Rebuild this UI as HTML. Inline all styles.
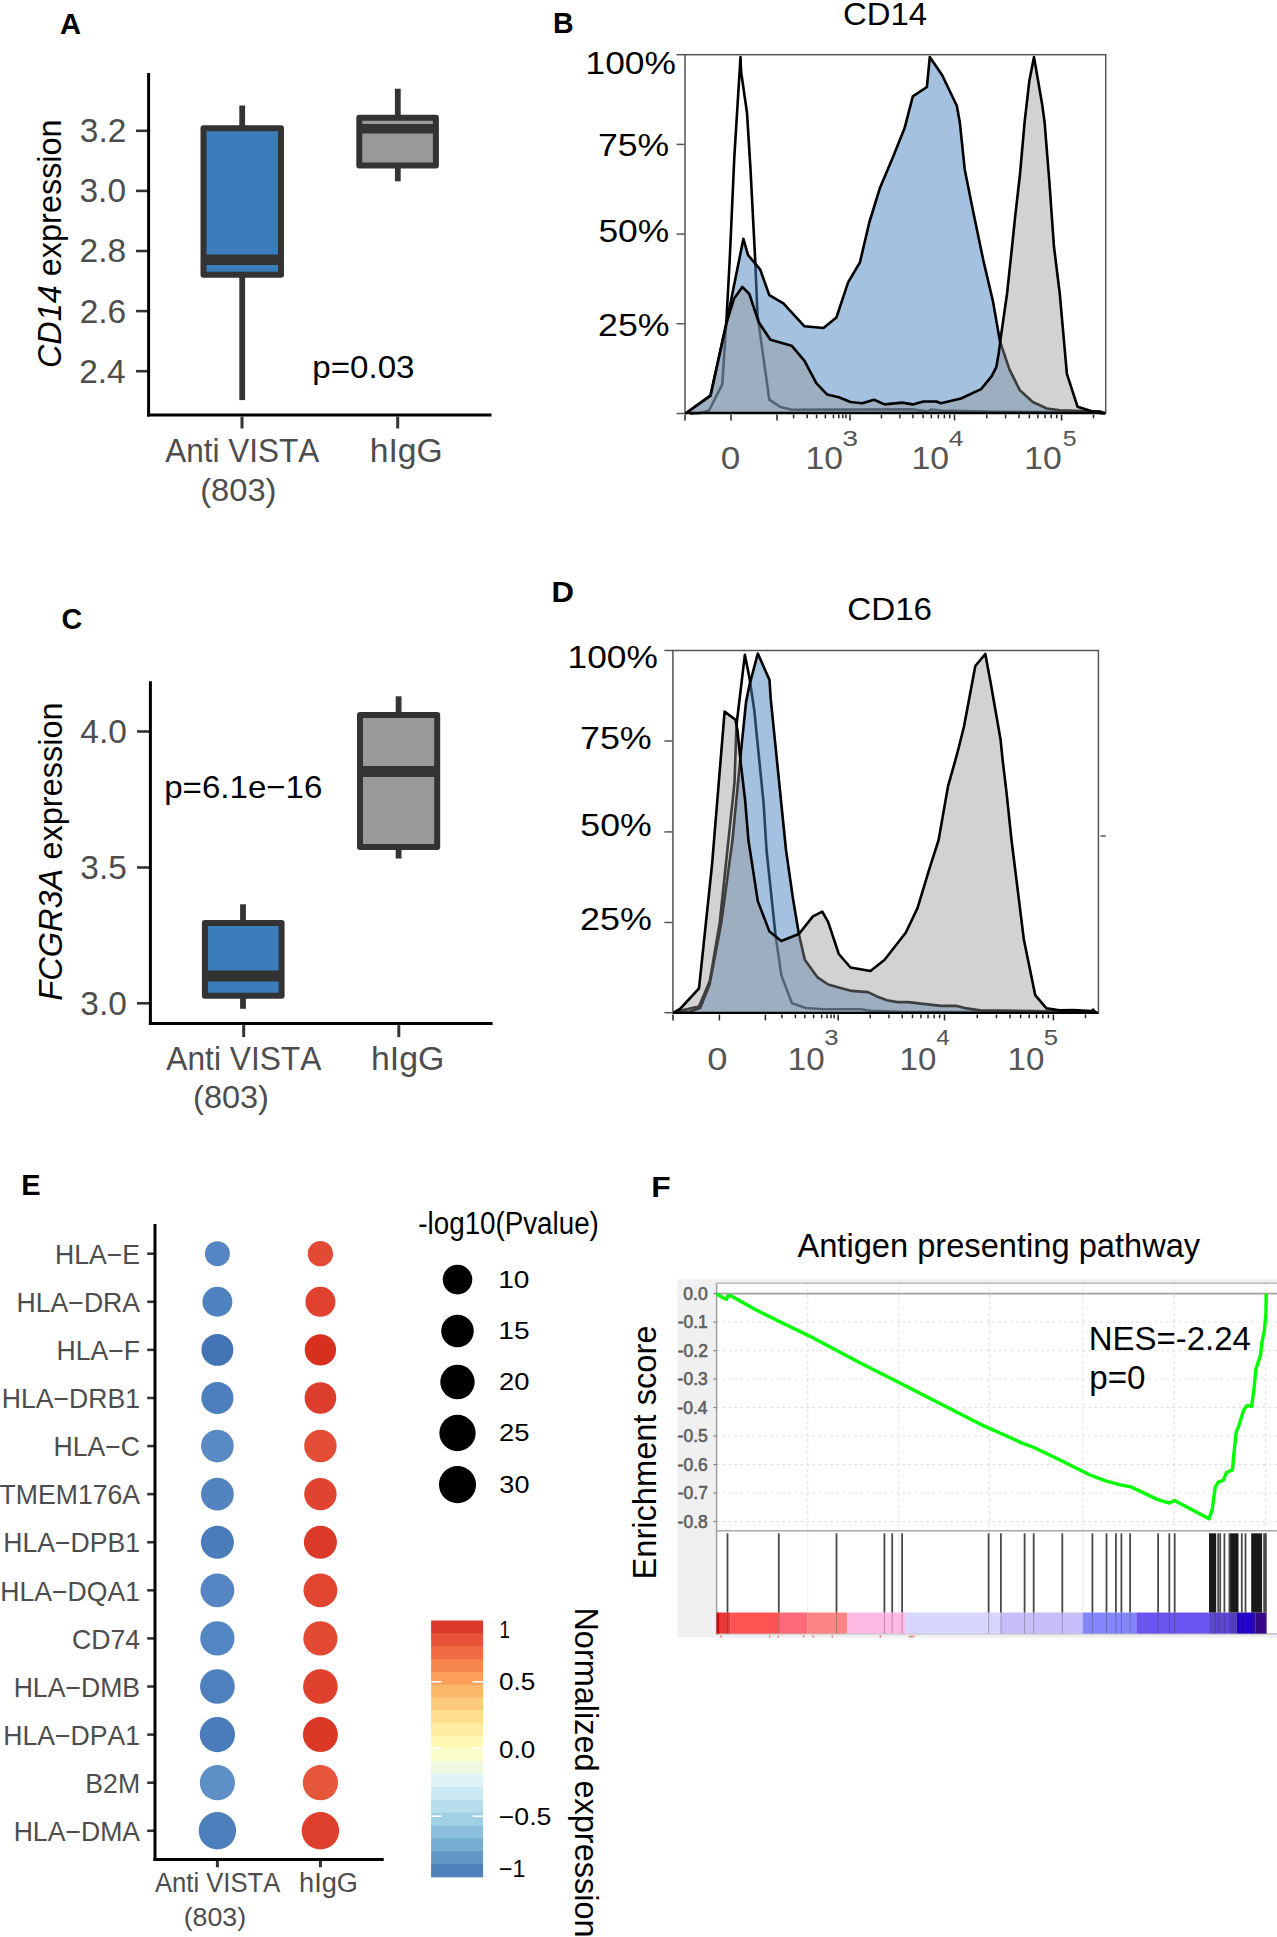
<!DOCTYPE html>
<html><head><meta charset="utf-8"><style>
html,body{margin:0;padding:0;background:#fff;}
svg{display:block;font-family:"Liberation Sans",sans-serif;font-kerning:none;}
</style></head><body>
<svg width="1277" height="1937" viewBox="0 0 1277 1937">
<rect width="1277" height="1937" fill="#fff"/>
<text transform="translate(59.97,33.50) scale(0.9903,1)" font-size="29.5" fill="#000"><tspan font-weight="bold">A</tspan></text>
<text transform="translate(552.89,32.90) scale(0.9672,1)" font-size="29.5" fill="#000"><tspan font-weight="bold">B</tspan></text>
<text transform="translate(61.42,629.20) scale(0.9747,1)" font-size="29.5" fill="#000"><tspan font-weight="bold">C</tspan></text>
<text transform="translate(551.52,601.80) scale(1.0557,1)" font-size="29.5" fill="#000"><tspan font-weight="bold">D</tspan></text>
<text transform="translate(21.26,1195.30) scale(0.9849,1)" font-size="29.5" fill="#000"><tspan font-weight="bold">E</tspan></text>
<text transform="translate(651.28,1196.80) scale(1.0758,1)" font-size="29.5" fill="#000"><tspan font-weight="bold">F</tspan></text>
<line x1="136.00" y1="130.80" x2="148.60" y2="130.80" stroke="#333333" stroke-width="2.6"/>
<text transform="translate(79.85,142.20) scale(1.0300,1)" font-size="32.5" fill="#4d4d4d"><tspan>3.2</tspan></text>
<line x1="136.00" y1="190.90" x2="148.60" y2="190.90" stroke="#333333" stroke-width="2.6"/>
<text transform="translate(79.47,202.30) scale(1.0300,1)" font-size="32.5" fill="#4d4d4d"><tspan>3.0</tspan></text>
<line x1="136.00" y1="251.00" x2="148.60" y2="251.00" stroke="#333333" stroke-width="2.6"/>
<text transform="translate(79.62,262.40) scale(1.0300,1)" font-size="32.5" fill="#4d4d4d"><tspan>2.8</tspan></text>
<line x1="136.00" y1="311.10" x2="148.60" y2="311.10" stroke="#333333" stroke-width="2.6"/>
<text transform="translate(79.64,322.50) scale(1.0300,1)" font-size="32.5" fill="#4d4d4d"><tspan>2.6</tspan></text>
<line x1="136.00" y1="371.20" x2="148.60" y2="371.20" stroke="#333333" stroke-width="2.6"/>
<text transform="translate(79.15,382.60) scale(1.0300,1)" font-size="32.5" fill="#4d4d4d"><tspan>2.4</tspan></text>
<line x1="242.20" y1="105.50" x2="242.20" y2="128.20" stroke="#333333" stroke-width="5.8"/>
<line x1="242.20" y1="274.70" x2="242.20" y2="400.10" stroke="#333333" stroke-width="5.8"/>
<rect x="203.50" y="128.20" width="77.50" height="146.50" fill="#3b7dba" stroke="#333333" stroke-width="6" stroke-linejoin="round"/>
<line x1="203.50" y1="259.70" x2="281.00" y2="259.70" stroke="#333333" stroke-width="10.4"/>
<line x1="397.80" y1="88.70" x2="397.80" y2="117.70" stroke="#333333" stroke-width="5.8"/>
<line x1="397.80" y1="165.40" x2="397.80" y2="181.30" stroke="#333333" stroke-width="5.8"/>
<rect x="359.30" y="117.70" width="76.60" height="47.70" fill="#999999" stroke="#333333" stroke-width="6" stroke-linejoin="round"/>
<line x1="359.30" y1="128.80" x2="435.90" y2="128.80" stroke="#333333" stroke-width="9.6"/>
<line x1="148.60" y1="73.00" x2="148.60" y2="416.50" stroke="#000" stroke-width="3"/>
<line x1="147.10" y1="415.00" x2="491.50" y2="415.00" stroke="#000" stroke-width="3"/>
<line x1="242.00" y1="416.50" x2="242.00" y2="428.50" stroke="#333333" stroke-width="3"/>
<line x1="397.70" y1="416.50" x2="397.70" y2="428.50" stroke="#333333" stroke-width="3"/>
<text transform="translate(165.24,462.10) scale(0.9257,1)" font-size="34" fill="#4d4d4d"><tspan>Anti VISTA</tspan></text>
<text transform="translate(200.17,501.30) scale(1.0221,1)" font-size="32" fill="#4d4d4d"><tspan>(803)</tspan></text>
<text transform="translate(369.67,462.10) scale(0.9896,1)" font-size="34" fill="#4d4d4d"><tspan>hIgG</tspan></text>
<text transform="rotate(-90) translate(-368.09,60.50) scale(0.9829,1)" font-size="33" fill="#000"><tspan font-style="italic">CD14</tspan><tspan> expression</tspan></text>
<text transform="translate(312.26,377.60) scale(1.0357,1)" font-size="32" fill="#000"><tspan>p=0.03</tspan></text>
<line x1="137.00" y1="731.50" x2="150.40" y2="731.50" stroke="#333333" stroke-width="2.6"/>
<text transform="translate(80.27,742.90) scale(1.0300,1)" font-size="32.5" fill="#4d4d4d"><tspan>4.0</tspan></text>
<line x1="137.00" y1="867.50" x2="150.40" y2="867.50" stroke="#333333" stroke-width="2.6"/>
<text transform="translate(80.37,878.90) scale(1.0300,1)" font-size="32.5" fill="#4d4d4d"><tspan>3.5</tspan></text>
<line x1="137.00" y1="1003.30" x2="150.40" y2="1003.30" stroke="#333333" stroke-width="2.6"/>
<text transform="translate(80.27,1014.70) scale(1.0300,1)" font-size="32.5" fill="#4d4d4d"><tspan>3.0</tspan></text>
<line x1="243.00" y1="904.30" x2="243.00" y2="923.10" stroke="#333333" stroke-width="5.8"/>
<line x1="243.00" y1="995.80" x2="243.00" y2="1008.80" stroke="#333333" stroke-width="5.8"/>
<rect x="204.90" y="923.10" width="76.70" height="72.70" fill="#3b7dba" stroke="#333333" stroke-width="6" stroke-linejoin="round"/>
<line x1="204.90" y1="976.00" x2="281.60" y2="976.00" stroke="#333333" stroke-width="11.0"/>
<line x1="398.60" y1="696.30" x2="398.60" y2="714.90" stroke="#333333" stroke-width="5.8"/>
<line x1="398.60" y1="846.90" x2="398.60" y2="858.50" stroke="#333333" stroke-width="5.8"/>
<rect x="360.00" y="714.90" width="77.20" height="132.00" fill="#999999" stroke="#333333" stroke-width="6" stroke-linejoin="round"/>
<line x1="360.00" y1="771.50" x2="437.20" y2="771.50" stroke="#333333" stroke-width="11.0"/>
<line x1="150.40" y1="681.30" x2="150.40" y2="1025.10" stroke="#000" stroke-width="3"/>
<line x1="148.90" y1="1023.60" x2="492.60" y2="1023.60" stroke="#000" stroke-width="3"/>
<line x1="243.70" y1="1025.10" x2="243.70" y2="1037.10" stroke="#333333" stroke-width="3"/>
<line x1="398.80" y1="1025.10" x2="398.80" y2="1037.10" stroke="#333333" stroke-width="3"/>
<text transform="translate(166.34,1070.10) scale(0.9323,1)" font-size="34" fill="#4d4d4d"><tspan>Anti VISTA</tspan></text>
<text transform="translate(193.09,1108.30) scale(1.0151,1)" font-size="32" fill="#4d4d4d"><tspan>(803)</tspan></text>
<text transform="translate(371.05,1070.10) scale(0.9954,1)" font-size="34" fill="#4d4d4d"><tspan>hIgG</tspan></text>
<text transform="rotate(-90) translate(-1000.70,61.70) scale(0.9861,1)" font-size="33" fill="#000"><tspan font-style="italic">FCGR3A</tspan><tspan> expression</tspan></text>
<text transform="translate(164.17,798.30) scale(1.0342,1)" font-size="32" fill="#000"><tspan>p=6.1e−16</tspan></text>
<polyline points="690.0,413.5 700.0,413.0 709.0,410.5 722.3,384.4 726.4,321.0 729.7,260.0 734.3,157.5 740.5,57.0 741.1,71.7 747.0,112.8 750.5,169.2 755.2,260.0 757.5,315.1 769.3,399.7 779.8,406.7 791.6,409.8 830.0,409.6 912.0,409.4 927.0,411.4 931.0,409.6 942.0,410.6 1000.0,411.8 1100.0,412.0" fill="none" stroke="#000" stroke-width="2.6" stroke-linejoin="round"/>
<polygon points="685.5,413.5 710.5,395.6 726.4,323.3 743.4,238.8 748.1,255.2 760.1,269.3 769.3,295.1 783.4,303.4 804.5,326.3 823.5,328.0 836.4,317.5 848.2,282.2 859.9,262.5 869.3,222.5 879.9,188.0 892.8,157.5 904.6,128.1 912.8,96.4 926.9,87.0 929.8,57.0 942.2,75.2 956.8,105.8 959.8,122.2 964.7,169.2 972.9,210.3 983.5,261.1 992.9,301.0 999.9,341.0 1009.3,369.2 1019.9,390.3 1032.8,402.0 1046.9,408.5 1059.8,410.3 1100.0,411.5 1105.0,413.5" fill="rgba(73,133,193,0.5)" stroke="none"/>
<polyline points="685.5,413.5 710.5,395.6 726.4,323.3 743.4,238.8 748.1,255.2 760.1,269.3 769.3,295.1 783.4,303.4 804.5,326.3 823.5,328.0 836.4,317.5 848.2,282.2 859.9,262.5 869.3,222.5 879.9,188.0 892.8,157.5 904.6,128.1 912.8,96.4 926.9,87.0 929.8,57.0 942.2,75.2 956.8,105.8 959.8,122.2 964.7,169.2 972.9,210.3 983.5,261.1 992.9,301.0 999.9,341.0 1009.3,369.2 1019.9,390.3 1032.8,402.0 1046.9,408.5 1059.8,410.3 1100.0,411.5 1105.0,413.5" fill="none" stroke="#000" stroke-width="2.6" stroke-linejoin="round"/>
<polygon points="685.5,413.5 710.5,395.6 726.4,323.3 734.0,298.7 742.3,286.9 749.3,294.0 758.7,322.2 770.4,339.8 791.6,345.7 804.5,360.9 816.3,383.2 827.0,394.4 838.8,397.3 850.5,402.0 862.3,403.2 874.0,399.7 884.6,404.4 902.2,402.6 912.8,404.4 923.4,401.5 936.3,401.5 941.0,403.2 961.0,398.5 981.1,389.1 991.7,376.2 996.4,366.8 998.8,352.7 1001.1,335.1 1007.0,294.0 1011.7,250.0 1015.2,216.2 1019.9,175.1 1024.6,122.2 1029.3,81.1 1034.0,57.0 1042.2,104.6 1044.6,122.2 1049.3,181.0 1054.0,247.0 1059.8,294.0 1066.9,373.9 1077.5,406.7 1092.7,411.4 1101.0,413.2 1105.0,413.5" fill="rgba(147,147,147,0.42)" stroke="none"/>
<polyline points="685.5,413.5 710.5,395.6 726.4,323.3 734.0,298.7 742.3,286.9 749.3,294.0 758.7,322.2 770.4,339.8 791.6,345.7 804.5,360.9 816.3,383.2 827.0,394.4 838.8,397.3 850.5,402.0 862.3,403.2 874.0,399.7 884.6,404.4 902.2,402.6 912.8,404.4 923.4,401.5 936.3,401.5 941.0,403.2 961.0,398.5 981.1,389.1 991.7,376.2 996.4,366.8 998.8,352.7 1001.1,335.1 1007.0,294.0 1011.7,250.0 1015.2,216.2 1019.9,175.1 1024.6,122.2 1029.3,81.1 1034.0,57.0 1042.2,104.6 1044.6,122.2 1049.3,181.0 1054.0,247.0 1059.8,294.0 1066.9,373.9 1077.5,406.7 1092.7,411.4 1101.0,413.2 1105.0,413.5" fill="none" stroke="#000" stroke-width="2.6" stroke-linejoin="round"/>
<rect x="685.0" y="54.7" width="420.70000000000005" height="358.3" fill="none" stroke="#555" stroke-width="1.5"/>
<line x1="685.00" y1="413.00" x2="1105.70" y2="413.00" stroke="#000" stroke-width="2.4"/>
<line x1="676.50" y1="54.70" x2="685.00" y2="54.70" stroke="#555" stroke-width="1.5"/>
<line x1="676.50" y1="144.40" x2="685.00" y2="144.40" stroke="#555" stroke-width="1.5"/>
<line x1="676.50" y1="234.10" x2="685.00" y2="234.10" stroke="#555" stroke-width="1.5"/>
<line x1="676.50" y1="323.70" x2="685.00" y2="323.70" stroke="#555" stroke-width="1.5"/>
<line x1="676.50" y1="413.50" x2="685.00" y2="413.50" stroke="#555" stroke-width="1.5"/>
<text transform="translate(585.51,73.80) scale(1.1409,1)" font-size="31" fill="#000"><tspan>100%</tspan></text>
<text transform="translate(597.98,156.00) scale(1.1474,1)" font-size="31" fill="#000"><tspan>75%</tspan></text>
<text transform="translate(598.38,241.80) scale(1.1407,1)" font-size="31" fill="#000"><tspan>50%</tspan></text>
<text transform="translate(598.00,336.40) scale(1.1536,1)" font-size="31" fill="#000"><tspan>25%</tspan></text>
<line x1="685.00" y1="414.60" x2="685.00" y2="420.50" stroke="#222" stroke-width="1.5"/>
<line x1="731.00" y1="414.60" x2="731.00" y2="420.50" stroke="#222" stroke-width="1.5"/>
<line x1="777.00" y1="414.60" x2="777.00" y2="420.50" stroke="#222" stroke-width="1.5"/>
<line x1="850.00" y1="414.60" x2="850.00" y2="420.50" stroke="#222" stroke-width="1.5"/>
<line x1="954.50" y1="414.60" x2="954.50" y2="420.50" stroke="#222" stroke-width="1.5"/>
<line x1="1061.60" y1="414.60" x2="1061.60" y2="420.50" stroke="#222" stroke-width="1.5"/>
<line x1="793.59" y1="414.60" x2="793.59" y2="418.30" stroke="#222" stroke-width="1.5"/>
<line x1="807.16" y1="414.60" x2="807.16" y2="418.30" stroke="#222" stroke-width="1.5"/>
<line x1="816.56" y1="414.60" x2="816.56" y2="418.30" stroke="#222" stroke-width="1.5"/>
<line x1="825.37" y1="414.60" x2="825.37" y2="418.30" stroke="#222" stroke-width="1.5"/>
<line x1="833.46" y1="414.60" x2="833.46" y2="418.30" stroke="#222" stroke-width="1.5"/>
<line x1="838.81" y1="414.60" x2="838.81" y2="418.30" stroke="#222" stroke-width="1.5"/>
<line x1="842.86" y1="414.60" x2="842.86" y2="418.30" stroke="#222" stroke-width="1.5"/>
<line x1="845.95" y1="414.60" x2="845.95" y2="418.30" stroke="#222" stroke-width="1.5"/>
<line x1="881.46" y1="414.60" x2="881.46" y2="418.30" stroke="#222" stroke-width="1.5"/>
<line x1="899.86" y1="414.60" x2="899.86" y2="418.30" stroke="#222" stroke-width="1.5"/>
<line x1="912.92" y1="414.60" x2="912.92" y2="418.30" stroke="#222" stroke-width="1.5"/>
<line x1="923.04" y1="414.60" x2="923.04" y2="418.30" stroke="#222" stroke-width="1.5"/>
<line x1="931.32" y1="414.60" x2="931.32" y2="418.30" stroke="#222" stroke-width="1.5"/>
<line x1="938.31" y1="414.60" x2="938.31" y2="418.30" stroke="#222" stroke-width="1.5"/>
<line x1="944.37" y1="414.60" x2="944.37" y2="418.30" stroke="#222" stroke-width="1.5"/>
<line x1="949.72" y1="414.60" x2="949.72" y2="418.30" stroke="#222" stroke-width="1.5"/>
<line x1="986.74" y1="414.60" x2="986.74" y2="418.30" stroke="#222" stroke-width="1.5"/>
<line x1="1005.60" y1="414.60" x2="1005.60" y2="418.30" stroke="#222" stroke-width="1.5"/>
<line x1="1018.98" y1="414.60" x2="1018.98" y2="418.30" stroke="#222" stroke-width="1.5"/>
<line x1="1029.36" y1="414.60" x2="1029.36" y2="418.30" stroke="#222" stroke-width="1.5"/>
<line x1="1037.84" y1="414.60" x2="1037.84" y2="418.30" stroke="#222" stroke-width="1.5"/>
<line x1="1045.01" y1="414.60" x2="1045.01" y2="418.30" stroke="#222" stroke-width="1.5"/>
<line x1="1051.22" y1="414.60" x2="1051.22" y2="418.30" stroke="#222" stroke-width="1.5"/>
<line x1="1056.70" y1="414.60" x2="1056.70" y2="418.30" stroke="#222" stroke-width="1.5"/>
<line x1="1093.50" y1="414.60" x2="1093.50" y2="418.30" stroke="#222" stroke-width="1.5"/>
<text transform="translate(720.73,469.00) scale(1.1337,1)" font-size="31" fill="#555"><tspan>0</tspan></text>
<text transform="translate(805.43,469.00) scale(1.0871,1)" font-size="31" fill="#555"><tspan>10</tspan></text>
<text transform="translate(842.22,445.50) scale(1.2943,1)" font-size="22" fill="#555"><tspan>3</tspan></text>
<text transform="translate(911.43,469.00) scale(1.0903,1)" font-size="31" fill="#555"><tspan>10</tspan></text>
<text transform="translate(948.79,445.50) scale(1.2087,1)" font-size="22" fill="#555"><tspan>4</tspan></text>
<text transform="translate(1024.23,469.00) scale(1.0903,1)" font-size="31" fill="#555"><tspan>10</tspan></text>
<text transform="translate(1062.80,445.50) scale(1.1313,1)" font-size="22" fill="#555"><tspan>5</tspan></text>
<text transform="translate(842.93,25.00) scale(1.0603,1)" font-size="31" fill="#000"><tspan>CD14</tspan></text>
<polyline points="676.7,1011.5 699.0,1006.6 709.8,981.0 719.7,923.0 734.5,782.6 736.5,725.0 744.9,654.7 749.6,678.8 754.3,710.5 759.0,757.5 763.7,804.5 766.5,850.0 775.4,934.0 781.3,975.1 791.9,1003.3 806.0,1008.0 823.5,1009.2 861.1,1009.2 870.5,1010.9 900.0,1011.8 1097.0,1012.3" fill="none" stroke="#000" stroke-width="2.6" stroke-linejoin="round"/>
<polygon points="673.5,1012.7 690.0,1011.5 700.2,1008.0 709.6,984.5 721.4,922.2 732.5,840.0 740.4,757.5 746.0,702.3 749.6,684.6 757.8,653.5 769.5,680.0 770.7,698.7 786.0,850.0 793.0,898.7 798.9,934.0 804.8,959.8 817.6,977.4 828.2,984.5 838.8,987.4 851.7,990.9 868.1,992.1 876.4,996.2 886.9,1000.3 897.5,1002.1 908.1,1002.1 923.3,1003.9 941.0,1005.9 956.0,1005.7 966.6,1008.4 980.0,1010.4 1033.2,1011.1 1097.0,1012.7" fill="rgba(73,133,193,0.5)" stroke="none"/>
<polyline points="673.5,1012.7 690.0,1011.5 700.2,1008.0 709.6,984.5 721.4,922.2 732.5,840.0 740.4,757.5 746.0,702.3 749.6,684.6 757.8,653.5 769.5,680.0 770.7,698.7 786.0,850.0 793.0,898.7 798.9,934.0 804.8,959.8 817.6,977.4 828.2,984.5 838.8,987.4 851.7,990.9 868.1,992.1 876.4,996.2 886.9,1000.3 897.5,1002.1 908.1,1002.1 923.3,1003.9 941.0,1005.9 956.0,1005.7 966.6,1008.4 980.0,1010.4 1033.2,1011.1 1097.0,1012.7" fill="none" stroke="#000" stroke-width="2.6" stroke-linejoin="round"/>
<polygon points="673.5,1012.7 680.0,1009.0 699.0,988.4 712.0,865.0 724.6,711.6 735.5,719.8 737.6,731.3 739.1,747.0 740.7,762.7 745.1,800.0 748.4,840.0 757.8,901.1 769.5,931.6 781.3,941.0 798.9,934.0 812.9,916.4 822.3,911.7 828.2,922.2 838.8,954.0 850.5,967.5 870.5,971.0 884.6,959.8 905.7,932.8 917.5,908.1 929.2,869.4 938.6,840.0 948.0,786.4 957.3,753.2 964.0,726.5 975.3,666.0 985.3,654.0 990.6,682.6 1000.6,739.8 1002.6,759.8 1006.6,793.1 1011.5,840.0 1023.9,939.8 1035.2,995.1 1046.5,1008.4 1059.8,1010.4 1073.1,1010.1 1091.8,1011.1 1093.1,1009.7 1095.7,1012.7" fill="rgba(147,147,147,0.42)" stroke="none"/>
<polyline points="673.5,1012.7 680.0,1009.0 699.0,988.4 712.0,865.0 724.6,711.6 735.5,719.8 737.6,731.3 739.1,747.0 740.7,762.7 745.1,800.0 748.4,840.0 757.8,901.1 769.5,931.6 781.3,941.0 798.9,934.0 812.9,916.4 822.3,911.7 828.2,922.2 838.8,954.0 850.5,967.5 870.5,971.0 884.6,959.8 905.7,932.8 917.5,908.1 929.2,869.4 938.6,840.0 948.0,786.4 957.3,753.2 964.0,726.5 975.3,666.0 985.3,654.0 990.6,682.6 1000.6,739.8 1002.6,759.8 1006.6,793.1 1011.5,840.0 1023.9,939.8 1035.2,995.1 1046.5,1008.4 1059.8,1010.4 1073.1,1010.1 1091.8,1011.1 1093.1,1009.7 1095.7,1012.7" fill="none" stroke="#000" stroke-width="2.6" stroke-linejoin="round"/>
<rect x="672.9" y="650.5" width="425.5000000000001" height="362.5" fill="none" stroke="#555" stroke-width="1.5"/>
<line x1="672.90" y1="1012.90" x2="1098.40" y2="1012.90" stroke="#000" stroke-width="2.4"/>
<line x1="664.40" y1="650.50" x2="672.90" y2="650.50" stroke="#555" stroke-width="1.5"/>
<line x1="664.40" y1="741.00" x2="672.90" y2="741.00" stroke="#555" stroke-width="1.5"/>
<line x1="664.40" y1="831.90" x2="672.90" y2="831.90" stroke="#555" stroke-width="1.5"/>
<line x1="664.40" y1="922.50" x2="672.90" y2="922.50" stroke="#555" stroke-width="1.5"/>
<line x1="664.40" y1="1012.70" x2="672.90" y2="1012.70" stroke="#555" stroke-width="1.5"/>
<text transform="translate(567.51,667.60) scale(1.1395,1)" font-size="31" fill="#000"><tspan>100%</tspan></text>
<text transform="translate(579.96,748.90) scale(1.1575,1)" font-size="31" fill="#000"><tspan>75%</tspan></text>
<text transform="translate(580.37,835.60) scale(1.1508,1)" font-size="31" fill="#000"><tspan>50%</tspan></text>
<text transform="translate(580.00,929.80) scale(1.1569,1)" font-size="31" fill="#000"><tspan>25%</tspan></text>
<line x1="673.00" y1="1014.50" x2="673.00" y2="1020.40" stroke="#222" stroke-width="1.5"/>
<line x1="719.40" y1="1014.50" x2="719.40" y2="1020.40" stroke="#222" stroke-width="1.5"/>
<line x1="765.40" y1="1014.50" x2="765.40" y2="1020.40" stroke="#222" stroke-width="1.5"/>
<line x1="838.20" y1="1014.50" x2="838.20" y2="1020.40" stroke="#222" stroke-width="1.5"/>
<line x1="944.50" y1="1014.50" x2="944.50" y2="1020.40" stroke="#222" stroke-width="1.5"/>
<line x1="1053.40" y1="1014.50" x2="1053.40" y2="1020.40" stroke="#222" stroke-width="1.5"/>
<line x1="781.89" y1="1014.50" x2="781.89" y2="1018.20" stroke="#222" stroke-width="1.5"/>
<line x1="795.43" y1="1014.50" x2="795.43" y2="1018.20" stroke="#222" stroke-width="1.5"/>
<line x1="804.82" y1="1014.50" x2="804.82" y2="1018.20" stroke="#222" stroke-width="1.5"/>
<line x1="813.61" y1="1014.50" x2="813.61" y2="1018.20" stroke="#222" stroke-width="1.5"/>
<line x1="821.69" y1="1014.50" x2="821.69" y2="1018.20" stroke="#222" stroke-width="1.5"/>
<line x1="827.03" y1="1014.50" x2="827.03" y2="1018.20" stroke="#222" stroke-width="1.5"/>
<line x1="831.07" y1="1014.50" x2="831.07" y2="1018.20" stroke="#222" stroke-width="1.5"/>
<line x1="834.16" y1="1014.50" x2="834.16" y2="1018.20" stroke="#222" stroke-width="1.5"/>
<line x1="870.20" y1="1014.50" x2="870.20" y2="1018.20" stroke="#222" stroke-width="1.5"/>
<line x1="888.92" y1="1014.50" x2="888.92" y2="1018.20" stroke="#222" stroke-width="1.5"/>
<line x1="902.20" y1="1014.50" x2="902.20" y2="1018.20" stroke="#222" stroke-width="1.5"/>
<line x1="912.50" y1="1014.50" x2="912.50" y2="1018.20" stroke="#222" stroke-width="1.5"/>
<line x1="920.92" y1="1014.50" x2="920.92" y2="1018.20" stroke="#222" stroke-width="1.5"/>
<line x1="928.03" y1="1014.50" x2="928.03" y2="1018.20" stroke="#222" stroke-width="1.5"/>
<line x1="934.20" y1="1014.50" x2="934.20" y2="1018.20" stroke="#222" stroke-width="1.5"/>
<line x1="939.64" y1="1014.50" x2="939.64" y2="1018.20" stroke="#222" stroke-width="1.5"/>
<line x1="977.28" y1="1014.50" x2="977.28" y2="1018.20" stroke="#222" stroke-width="1.5"/>
<line x1="996.46" y1="1014.50" x2="996.46" y2="1018.20" stroke="#222" stroke-width="1.5"/>
<line x1="1010.06" y1="1014.50" x2="1010.06" y2="1018.20" stroke="#222" stroke-width="1.5"/>
<line x1="1020.62" y1="1014.50" x2="1020.62" y2="1018.20" stroke="#222" stroke-width="1.5"/>
<line x1="1029.24" y1="1014.50" x2="1029.24" y2="1018.20" stroke="#222" stroke-width="1.5"/>
<line x1="1036.53" y1="1014.50" x2="1036.53" y2="1018.20" stroke="#222" stroke-width="1.5"/>
<line x1="1042.85" y1="1014.50" x2="1042.85" y2="1018.20" stroke="#222" stroke-width="1.5"/>
<line x1="1048.42" y1="1014.50" x2="1048.42" y2="1018.20" stroke="#222" stroke-width="1.5"/>
<line x1="1085.50" y1="1014.50" x2="1085.50" y2="1018.20" stroke="#222" stroke-width="1.5"/>
<line x1="1100.40" y1="836.00" x2="1105.70" y2="836.00" stroke="#555" stroke-width="1.5"/>
<text transform="translate(707.18,1069.70) scale(1.1742,1)" font-size="31" fill="#555"><tspan>0</tspan></text>
<text transform="translate(787.87,1069.70) scale(1.0709,1)" font-size="31" fill="#555"><tspan>10</tspan></text>
<text transform="translate(824.32,1045.30) scale(1.1696,1)" font-size="22" fill="#555"><tspan>3</tspan></text>
<text transform="translate(899.48,1069.70) scale(1.0676,1)" font-size="31" fill="#555"><tspan>10</tspan></text>
<text transform="translate(936.24,1045.30) scale(1.1005,1)" font-size="22" fill="#555"><tspan>4</tspan></text>
<text transform="translate(1007.48,1069.70) scale(1.0676,1)" font-size="31" fill="#555"><tspan>10</tspan></text>
<text transform="translate(1043.77,1045.30) scale(1.1696,1)" font-size="22" fill="#555"><tspan>5</tspan></text>
<text transform="translate(847.21,620.00) scale(1.0705,1)" font-size="31" fill="#000"><tspan>CD16</tspan></text>
<line x1="147.20" y1="1253.70" x2="155.00" y2="1253.70" stroke="#333333" stroke-width="2.6"/>
<text transform="translate(55.02,1263.90) scale(0.9750,1)" font-size="27.3" fill="#4d4d4d"><tspan>HLA−E</tspan></text>
<circle cx="217.4" cy="1253.70" r="12.50" fill="#5586c3"/>
<circle cx="320.4" cy="1253.70" r="12.65" fill="#e34a33"/>
<line x1="147.20" y1="1301.79" x2="155.00" y2="1301.79" stroke="#333333" stroke-width="2.6"/>
<text transform="translate(16.58,1311.99) scale(0.9750,1)" font-size="27.3" fill="#4d4d4d"><tspan>HLA−DRA</tspan></text>
<circle cx="217.4" cy="1301.79" r="14.95" fill="#4f83c0"/>
<circle cx="320.4" cy="1301.79" r="15.00" fill="#e0422f"/>
<line x1="147.20" y1="1349.88" x2="155.00" y2="1349.88" stroke="#333333" stroke-width="2.6"/>
<text transform="translate(56.52,1360.08) scale(0.9750,1)" font-size="27.3" fill="#4d4d4d"><tspan>HLA−F</tspan></text>
<circle cx="217.4" cy="1349.88" r="15.95" fill="#4474b5"/>
<circle cx="320.4" cy="1349.88" r="15.65" fill="#d7301f"/>
<line x1="147.20" y1="1397.97" x2="155.00" y2="1397.97" stroke="#333333" stroke-width="2.6"/>
<text transform="translate(1.77,1408.17) scale(0.9750,1)" font-size="27.3" fill="#4d4d4d"><tspan>HLA−DRB1</tspan></text>
<circle cx="217.4" cy="1397.97" r="16.05" fill="#4d7fbe"/>
<circle cx="320.4" cy="1397.97" r="15.80" fill="#dd3d2d"/>
<line x1="147.20" y1="1446.06" x2="155.00" y2="1446.06" stroke="#333333" stroke-width="2.6"/>
<text transform="translate(53.55,1456.26) scale(0.9750,1)" font-size="27.3" fill="#4d4d4d"><tspan>HLA−C</tspan></text>
<circle cx="217.4" cy="1446.06" r="16.35" fill="#5a8ac4"/>
<circle cx="320.4" cy="1446.06" r="16.20" fill="#e44d35"/>
<line x1="147.20" y1="1494.15" x2="155.00" y2="1494.15" stroke="#333333" stroke-width="2.6"/>
<text transform="translate(-0.42,1504.35) scale(0.9750,1)" font-size="27.3" fill="#4d4d4d"><tspan>TMEM176A</tspan></text>
<circle cx="217.4" cy="1494.15" r="16.35" fill="#5384c0"/>
<circle cx="320.4" cy="1494.15" r="16.20" fill="#e04430"/>
<line x1="147.20" y1="1542.24" x2="155.00" y2="1542.24" stroke="#333333" stroke-width="2.6"/>
<text transform="translate(3.24,1552.44) scale(0.9750,1)" font-size="27.3" fill="#4d4d4d"><tspan>HLA−DPB1</tspan></text>
<circle cx="217.4" cy="1542.24" r="16.55" fill="#4a7cbc"/>
<circle cx="320.4" cy="1542.24" r="16.55" fill="#dc3a28"/>
<line x1="147.20" y1="1590.33" x2="155.00" y2="1590.33" stroke="#333333" stroke-width="2.6"/>
<text transform="translate(0.29,1600.53) scale(0.9750,1)" font-size="27.3" fill="#4d4d4d"><tspan>HLA−DQA1</tspan></text>
<circle cx="217.4" cy="1590.33" r="16.90" fill="#5586c3"/>
<circle cx="320.4" cy="1590.33" r="16.90" fill="#e1452f"/>
<line x1="147.20" y1="1638.42" x2="155.00" y2="1638.42" stroke="#333333" stroke-width="2.6"/>
<text transform="translate(72.05,1648.62) scale(0.9750,1)" font-size="27.3" fill="#4d4d4d"><tspan>CD74</tspan></text>
<circle cx="217.4" cy="1638.42" r="17.15" fill="#5387c4"/>
<circle cx="320.4" cy="1638.42" r="17.10" fill="#e34a33"/>
<line x1="147.20" y1="1686.51" x2="155.00" y2="1686.51" stroke="#333333" stroke-width="2.6"/>
<text transform="translate(13.63,1696.71) scale(0.9750,1)" font-size="27.3" fill="#4d4d4d"><tspan>HLA−DMB</tspan></text>
<circle cx="217.4" cy="1686.51" r="17.35" fill="#4f80be"/>
<circle cx="320.4" cy="1686.51" r="17.30" fill="#df412d"/>
<line x1="147.20" y1="1734.60" x2="155.00" y2="1734.60" stroke="#333333" stroke-width="2.6"/>
<text transform="translate(3.24,1744.80) scale(0.9750,1)" font-size="27.3" fill="#4d4d4d"><tspan>HLA−DPA1</tspan></text>
<circle cx="217.4" cy="1734.60" r="17.60" fill="#4a7bba"/>
<circle cx="320.4" cy="1734.60" r="17.50" fill="#db3826"/>
<line x1="147.20" y1="1782.69" x2="155.00" y2="1782.69" stroke="#333333" stroke-width="2.6"/>
<text transform="translate(85.37,1792.89) scale(0.9750,1)" font-size="27.3" fill="#4d4d4d"><tspan>B2M</tspan></text>
<circle cx="217.4" cy="1782.69" r="17.60" fill="#5f8fc7"/>
<circle cx="320.4" cy="1782.69" r="17.60" fill="#e6563a"/>
<line x1="147.20" y1="1830.78" x2="155.00" y2="1830.78" stroke="#333333" stroke-width="2.6"/>
<text transform="translate(13.63,1840.98) scale(0.9750,1)" font-size="27.3" fill="#4d4d4d"><tspan>HLA−DMA</tspan></text>
<circle cx="217.4" cy="1830.78" r="18.75" fill="#4e7fbd"/>
<circle cx="320.4" cy="1830.78" r="18.75" fill="#dd3f2c"/>
<line x1="155.00" y1="1224.00" x2="155.00" y2="1861.00" stroke="#000" stroke-width="3"/>
<line x1="153.50" y1="1859.50" x2="383.70" y2="1859.50" stroke="#000" stroke-width="3"/>
<line x1="217.40" y1="1861.00" x2="217.40" y2="1867.30" stroke="#333333" stroke-width="3"/>
<line x1="320.40" y1="1861.00" x2="320.40" y2="1867.30" stroke="#333333" stroke-width="3"/>
<text transform="translate(154.95,1892.40) scale(0.9157,1)" font-size="28" fill="#4d4d4d"><tspan>Anti VISTA</tspan></text>
<text transform="translate(183.64,1926.40) scale(1.0301,1)" font-size="26" fill="#4d4d4d"><tspan>(803)</tspan></text>
<text transform="translate(299.01,1892.40) scale(0.9723,1)" font-size="28" fill="#4d4d4d"><tspan>hIgG</tspan></text>
<text transform="translate(418.37,1233.60) scale(0.8956,1)" font-size="31" fill="#000"><tspan>-log10(Pvalue)</tspan></text>
<circle cx="457.5" cy="1279.6" r="14.80" fill="#000"/>
<text transform="translate(498.26,1288.00) scale(1.1950,1)" font-size="23.5" fill="#000"><tspan>10</tspan></text>
<circle cx="457.5" cy="1330.9" r="16.25" fill="#000"/>
<text transform="translate(498.25,1339.30) scale(1.1985,1)" font-size="23.5" fill="#000"><tspan>15</tspan></text>
<circle cx="457.5" cy="1382.0" r="17.20" fill="#000"/>
<text transform="translate(499.02,1390.40) scale(1.1648,1)" font-size="23.5" fill="#000"><tspan>20</tspan></text>
<circle cx="457.5" cy="1433.0" r="18.15" fill="#000"/>
<text transform="translate(499.02,1441.40) scale(1.1681,1)" font-size="23.5" fill="#000"><tspan>25</tspan></text>
<circle cx="457.5" cy="1484.6" r="18.55" fill="#000"/>
<text transform="translate(499.37,1493.00) scale(1.1510,1)" font-size="23.5" fill="#000"><tspan>30</tspan></text>
<rect x="431.10" y="1620.50" width="52.00" height="13.41" fill="#dc3a2c" stroke="none" stroke-width="0"/>
<rect x="431.10" y="1633.31" width="52.00" height="13.41" fill="#e75337" stroke="none" stroke-width="0"/>
<rect x="431.10" y="1646.12" width="52.00" height="13.41" fill="#f36b42" stroke="none" stroke-width="0"/>
<rect x="431.10" y="1658.93" width="52.00" height="13.41" fill="#f7854e" stroke="none" stroke-width="0"/>
<rect x="431.10" y="1671.74" width="52.00" height="13.41" fill="#fb9f5a" stroke="none" stroke-width="0"/>
<rect x="431.10" y="1684.55" width="52.00" height="13.41" fill="#fdb769" stroke="none" stroke-width="0"/>
<rect x="431.10" y="1697.36" width="52.00" height="13.41" fill="#fecb7c" stroke="none" stroke-width="0"/>
<rect x="431.10" y="1710.17" width="52.00" height="13.41" fill="#fedf8f" stroke="none" stroke-width="0"/>
<rect x="431.10" y="1722.98" width="52.00" height="13.41" fill="#feeca2" stroke="none" stroke-width="0"/>
<rect x="431.10" y="1735.79" width="52.00" height="13.41" fill="#fff8b5" stroke="none" stroke-width="0"/>
<rect x="431.10" y="1748.60" width="52.00" height="13.41" fill="#f9fdca" stroke="none" stroke-width="0"/>
<rect x="431.10" y="1761.41" width="52.00" height="13.41" fill="#edf8e1" stroke="none" stroke-width="0"/>
<rect x="431.10" y="1774.22" width="52.00" height="13.41" fill="#e0f3f8" stroke="none" stroke-width="0"/>
<rect x="431.10" y="1787.03" width="52.00" height="13.41" fill="#cbe9f2" stroke="none" stroke-width="0"/>
<rect x="431.10" y="1799.84" width="52.00" height="13.41" fill="#b6deec" stroke="none" stroke-width="0"/>
<rect x="431.10" y="1812.65" width="52.00" height="13.41" fill="#a0d0e4" stroke="none" stroke-width="0"/>
<rect x="431.10" y="1825.46" width="52.00" height="13.41" fill="#8abeda" stroke="none" stroke-width="0"/>
<rect x="431.10" y="1838.27" width="52.00" height="13.41" fill="#74add1" stroke="none" stroke-width="0"/>
<rect x="431.10" y="1851.08" width="52.00" height="13.41" fill="#6196c5" stroke="none" stroke-width="0"/>
<rect x="431.10" y="1863.89" width="52.00" height="13.41" fill="#4e80b9" stroke="none" stroke-width="0"/>
<line x1="431.10" y1="1681.80" x2="441.50" y2="1681.80" stroke="#fff" stroke-width="1.6"/>
<line x1="472.70" y1="1681.80" x2="483.10" y2="1681.80" stroke="#fff" stroke-width="1.6"/>
<line x1="431.10" y1="1748.10" x2="441.50" y2="1748.10" stroke="#fff" stroke-width="1.6"/>
<line x1="472.70" y1="1748.10" x2="483.10" y2="1748.10" stroke="#fff" stroke-width="1.6"/>
<line x1="431.10" y1="1816.20" x2="441.50" y2="1816.20" stroke="#fff" stroke-width="1.6"/>
<line x1="472.70" y1="1816.20" x2="483.10" y2="1816.20" stroke="#fff" stroke-width="1.6"/>
<text transform="translate(499.57,1637.50) scale(0.7994,1)" font-size="23.5" fill="#000"><tspan>1</tspan></text>
<text transform="translate(499.08,1690.40) scale(1.1085,1)" font-size="23.5" fill="#000"><tspan>0.5</tspan></text>
<text transform="translate(499.08,1757.60) scale(1.1060,1)" font-size="23.5" fill="#000"><tspan>0.0</tspan></text>
<text transform="translate(498.79,1824.80) scale(1.1346,1)" font-size="23.5" fill="#000"><tspan>−0.5</tspan></text>
<text transform="translate(498.95,1876.70) scale(0.9883,1)" font-size="23.5" fill="#000"><tspan>−1</tspan></text>
<text transform="rotate(90) translate(1607.44,-575.30) scale(0.9837,1)" font-size="33" fill="#000"><tspan>Normalized expression</tspan></text>
<text transform="translate(797.44,1257.00) scale(0.9745,1)" font-size="33.5" fill="#000"><tspan>Antigen presenting pathway</tspan></text>
<rect x="677.50" y="1279.20" width="599.50" height="358.50" fill="#f0f0f0" stroke="none" stroke-width="0"/>
<rect x="716.60" y="1283.20" width="560.40" height="350.40" fill="#fff" stroke="none" stroke-width="0"/>
<line x1="716.60" y1="1322.09" x2="1277.00" y2="1322.09" stroke="#dadada" stroke-width="1" stroke-dasharray="2.5,3.5"/>
<line x1="716.60" y1="1350.58" x2="1277.00" y2="1350.58" stroke="#dadada" stroke-width="1" stroke-dasharray="2.5,3.5"/>
<line x1="716.60" y1="1379.07" x2="1277.00" y2="1379.07" stroke="#dadada" stroke-width="1" stroke-dasharray="2.5,3.5"/>
<line x1="716.60" y1="1407.56" x2="1277.00" y2="1407.56" stroke="#dadada" stroke-width="1" stroke-dasharray="2.5,3.5"/>
<line x1="716.60" y1="1436.05" x2="1277.00" y2="1436.05" stroke="#dadada" stroke-width="1" stroke-dasharray="2.5,3.5"/>
<line x1="716.60" y1="1464.54" x2="1277.00" y2="1464.54" stroke="#dadada" stroke-width="1" stroke-dasharray="2.5,3.5"/>
<line x1="716.60" y1="1493.03" x2="1277.00" y2="1493.03" stroke="#dadada" stroke-width="1" stroke-dasharray="2.5,3.5"/>
<line x1="716.60" y1="1521.52" x2="1277.00" y2="1521.52" stroke="#dadada" stroke-width="1" stroke-dasharray="2.5,3.5"/>
<line x1="807.70" y1="1283.20" x2="807.70" y2="1530.80" stroke="#dadada" stroke-width="1" stroke-dasharray="2.5,3.5"/>
<line x1="807.70" y1="1530.80" x2="807.70" y2="1612.50" stroke="#ececec" stroke-width="1"/>
<line x1="898.80" y1="1283.20" x2="898.80" y2="1530.80" stroke="#dadada" stroke-width="1" stroke-dasharray="2.5,3.5"/>
<line x1="898.80" y1="1530.80" x2="898.80" y2="1612.50" stroke="#ececec" stroke-width="1"/>
<line x1="989.40" y1="1283.20" x2="989.40" y2="1530.80" stroke="#dadada" stroke-width="1" stroke-dasharray="2.5,3.5"/>
<line x1="989.40" y1="1530.80" x2="989.40" y2="1612.50" stroke="#ececec" stroke-width="1"/>
<line x1="1082.80" y1="1283.20" x2="1082.80" y2="1530.80" stroke="#dadada" stroke-width="1" stroke-dasharray="2.5,3.5"/>
<line x1="1082.80" y1="1530.80" x2="1082.80" y2="1612.50" stroke="#ececec" stroke-width="1"/>
<line x1="1174.20" y1="1283.20" x2="1174.20" y2="1530.80" stroke="#dadada" stroke-width="1" stroke-dasharray="2.5,3.5"/>
<line x1="1174.20" y1="1530.80" x2="1174.20" y2="1612.50" stroke="#ececec" stroke-width="1"/>
<line x1="1265.60" y1="1283.20" x2="1265.60" y2="1530.80" stroke="#dadada" stroke-width="1" stroke-dasharray="2.5,3.5"/>
<line x1="1265.60" y1="1530.80" x2="1265.60" y2="1612.50" stroke="#ececec" stroke-width="1"/>
<line x1="716.60" y1="1293.60" x2="1277.00" y2="1293.60" stroke="#a0a0a0" stroke-width="1.6"/>
<line x1="716.60" y1="1283.20" x2="1277.00" y2="1283.20" stroke="#b0b0b0" stroke-width="1.3"/>
<line x1="716.60" y1="1530.80" x2="1277.00" y2="1530.80" stroke="#a8a8a8" stroke-width="1.5"/>
<line x1="716.60" y1="1283.20" x2="716.60" y2="1635.00" stroke="#a0a0a0" stroke-width="1.5"/>
<line x1="716.60" y1="1633.90" x2="1277.00" y2="1633.90" stroke="#b8b8b8" stroke-width="1.3"/>
<line x1="713.30" y1="1293.60" x2="716.60" y2="1293.60" stroke="#888" stroke-width="1.2"/>
<text transform="translate(683.36,1299.85)" font-size="17.5" fill="#606060" stroke="#606060" stroke-width="0.6"><tspan>0.0</tspan></text>
<line x1="713.30" y1="1322.09" x2="716.60" y2="1322.09" stroke="#888" stroke-width="1.2"/>
<text transform="translate(677.70,1328.34)" font-size="17.5" fill="#606060" stroke="#606060" stroke-width="0.6"><tspan>-0.1</tspan></text>
<line x1="713.30" y1="1350.58" x2="716.60" y2="1350.58" stroke="#888" stroke-width="1.2"/>
<text transform="translate(677.73,1356.83)" font-size="17.5" fill="#606060" stroke="#606060" stroke-width="0.6"><tspan>-0.2</tspan></text>
<line x1="713.30" y1="1379.07" x2="716.60" y2="1379.07" stroke="#888" stroke-width="1.2"/>
<text transform="translate(677.61,1385.32)" font-size="17.5" fill="#606060" stroke="#606060" stroke-width="0.6"><tspan>-0.3</tspan></text>
<line x1="713.30" y1="1407.56" x2="716.60" y2="1407.56" stroke="#888" stroke-width="1.2"/>
<text transform="translate(677.36,1413.81)" font-size="17.5" fill="#606060" stroke="#606060" stroke-width="0.6"><tspan>-0.4</tspan></text>
<line x1="713.30" y1="1436.05" x2="716.60" y2="1436.05" stroke="#888" stroke-width="1.2"/>
<text transform="translate(677.58,1442.30)" font-size="17.5" fill="#606060" stroke="#606060" stroke-width="0.6"><tspan>-0.5</tspan></text>
<line x1="713.30" y1="1464.54" x2="716.60" y2="1464.54" stroke="#888" stroke-width="1.2"/>
<text transform="translate(677.61,1470.79)" font-size="17.5" fill="#606060" stroke="#606060" stroke-width="0.6"><tspan>-0.6</tspan></text>
<line x1="713.30" y1="1493.03" x2="716.60" y2="1493.03" stroke="#888" stroke-width="1.2"/>
<text transform="translate(677.73,1499.28)" font-size="17.5" fill="#606060" stroke="#606060" stroke-width="0.6"><tspan>-0.7</tspan></text>
<line x1="713.30" y1="1521.52" x2="716.60" y2="1521.52" stroke="#888" stroke-width="1.2"/>
<text transform="translate(677.61,1527.77)" font-size="17.5" fill="#606060" stroke="#606060" stroke-width="0.6"><tspan>-0.8</tspan></text>
<rect x="716.60" y="1612.50" width="3.20" height="21.10" fill="#d40000" stroke="none" stroke-width="0"/>
<rect x="719.80" y="1612.50" width="10.90" height="21.10" fill="#e83838" stroke="none" stroke-width="0"/>
<rect x="730.70" y="1612.50" width="48.10" height="21.10" fill="#ff5252" stroke="none" stroke-width="0"/>
<rect x="778.80" y="1612.50" width="28.40" height="21.10" fill="#ff6a7a" stroke="none" stroke-width="0"/>
<rect x="807.20" y="1612.50" width="40.00" height="21.10" fill="#ff8585" stroke="none" stroke-width="0"/>
<rect x="847.20" y="1612.50" width="58.00" height="21.10" fill="#ffbbe4" stroke="none" stroke-width="0"/>
<rect x="905.20" y="1612.50" width="95.60" height="21.10" fill="#d6d6ff" stroke="none" stroke-width="0"/>
<rect x="1000.80" y="1612.50" width="81.80" height="21.10" fill="#c7bff9" stroke="none" stroke-width="0"/>
<rect x="1082.60" y="1612.50" width="53.70" height="21.10" fill="#8585ff" stroke="none" stroke-width="0"/>
<rect x="1136.30" y="1612.50" width="76.90" height="21.10" fill="#6b55f0" stroke="none" stroke-width="0"/>
<rect x="1213.20" y="1612.50" width="23.60" height="21.10" fill="#5e46e4" stroke="none" stroke-width="0"/>
<rect x="1236.80" y="1612.50" width="18.60" height="21.10" fill="#2200cc" stroke="none" stroke-width="0"/>
<rect x="1255.40" y="1612.50" width="11.20" height="21.10" fill="#3a0099" stroke="none" stroke-width="0"/>
<line x1="727.50" y1="1533.30" x2="727.50" y2="1612.50" stroke="#4a4a4a" stroke-width="1.8"/>
<line x1="727.50" y1="1612.50" x2="727.50" y2="1633.60" stroke="rgba(60,60,60,0.35)" stroke-width="1.0"/>
<line x1="778.80" y1="1533.30" x2="778.80" y2="1612.50" stroke="#4a4a4a" stroke-width="1.8"/>
<line x1="778.80" y1="1612.50" x2="778.80" y2="1633.60" stroke="rgba(60,60,60,0.35)" stroke-width="1.0"/>
<line x1="836.50" y1="1533.30" x2="836.50" y2="1612.50" stroke="#4a4a4a" stroke-width="1.8"/>
<line x1="836.50" y1="1612.50" x2="836.50" y2="1633.60" stroke="rgba(60,60,60,0.35)" stroke-width="1.0"/>
<line x1="884.40" y1="1533.30" x2="884.40" y2="1612.50" stroke="#4a4a4a" stroke-width="1.8"/>
<line x1="884.40" y1="1612.50" x2="884.40" y2="1633.60" stroke="rgba(60,60,60,0.35)" stroke-width="1.0"/>
<line x1="892.20" y1="1533.30" x2="892.20" y2="1612.50" stroke="#4a4a4a" stroke-width="1.8"/>
<line x1="892.20" y1="1612.50" x2="892.20" y2="1633.60" stroke="rgba(60,60,60,0.35)" stroke-width="1.0"/>
<line x1="902.10" y1="1533.30" x2="902.10" y2="1612.50" stroke="#4a4a4a" stroke-width="1.8"/>
<line x1="902.10" y1="1612.50" x2="902.10" y2="1633.60" stroke="rgba(60,60,60,0.35)" stroke-width="1.0"/>
<line x1="988.60" y1="1533.30" x2="988.60" y2="1612.50" stroke="#4a4a4a" stroke-width="1.8"/>
<line x1="988.60" y1="1612.50" x2="988.60" y2="1633.60" stroke="rgba(60,60,60,0.35)" stroke-width="1.0"/>
<line x1="1000.90" y1="1533.30" x2="1000.90" y2="1612.50" stroke="#4a4a4a" stroke-width="1.8"/>
<line x1="1000.90" y1="1612.50" x2="1000.90" y2="1633.60" stroke="rgba(60,60,60,0.35)" stroke-width="1.0"/>
<line x1="1024.60" y1="1533.30" x2="1024.60" y2="1612.50" stroke="#4a4a4a" stroke-width="1.8"/>
<line x1="1024.60" y1="1612.50" x2="1024.60" y2="1633.60" stroke="rgba(60,60,60,0.35)" stroke-width="1.0"/>
<line x1="1033.70" y1="1533.30" x2="1033.70" y2="1612.50" stroke="#4a4a4a" stroke-width="1.8"/>
<line x1="1033.70" y1="1612.50" x2="1033.70" y2="1633.60" stroke="rgba(60,60,60,0.35)" stroke-width="1.0"/>
<line x1="1062.30" y1="1533.30" x2="1062.30" y2="1612.50" stroke="#4a4a4a" stroke-width="1.8"/>
<line x1="1062.30" y1="1612.50" x2="1062.30" y2="1633.60" stroke="rgba(60,60,60,0.35)" stroke-width="1.0"/>
<line x1="1092.40" y1="1533.30" x2="1092.40" y2="1612.50" stroke="#4a4a4a" stroke-width="1.8"/>
<line x1="1092.40" y1="1612.50" x2="1092.40" y2="1633.60" stroke="rgba(60,60,60,0.35)" stroke-width="1.0"/>
<line x1="1106.50" y1="1533.30" x2="1106.50" y2="1612.50" stroke="#4a4a4a" stroke-width="1.8"/>
<line x1="1106.50" y1="1612.50" x2="1106.50" y2="1633.60" stroke="rgba(60,60,60,0.35)" stroke-width="1.0"/>
<line x1="1115.90" y1="1533.30" x2="1115.90" y2="1612.50" stroke="#4a4a4a" stroke-width="1.8"/>
<line x1="1115.90" y1="1612.50" x2="1115.90" y2="1633.60" stroke="rgba(60,60,60,0.35)" stroke-width="1.0"/>
<line x1="1121.40" y1="1533.30" x2="1121.40" y2="1612.50" stroke="#4a4a4a" stroke-width="1.8"/>
<line x1="1121.40" y1="1612.50" x2="1121.40" y2="1633.60" stroke="rgba(60,60,60,0.35)" stroke-width="1.0"/>
<line x1="1130.10" y1="1533.30" x2="1130.10" y2="1612.50" stroke="#4a4a4a" stroke-width="1.8"/>
<line x1="1130.10" y1="1612.50" x2="1130.10" y2="1633.60" stroke="rgba(60,60,60,0.35)" stroke-width="1.0"/>
<line x1="1158.10" y1="1533.30" x2="1158.10" y2="1612.50" stroke="#4a4a4a" stroke-width="1.8"/>
<line x1="1158.10" y1="1612.50" x2="1158.10" y2="1633.60" stroke="rgba(60,60,60,0.35)" stroke-width="1.0"/>
<line x1="1169.30" y1="1533.30" x2="1169.30" y2="1612.50" stroke="#4a4a4a" stroke-width="1.8"/>
<line x1="1169.30" y1="1612.50" x2="1169.30" y2="1633.60" stroke="rgba(60,60,60,0.35)" stroke-width="1.0"/>
<line x1="1174.70" y1="1533.30" x2="1174.70" y2="1612.50" stroke="#4a4a4a" stroke-width="1.8"/>
<line x1="1174.70" y1="1612.50" x2="1174.70" y2="1633.60" stroke="rgba(60,60,60,0.35)" stroke-width="1.0"/>
<line x1="1218.20" y1="1533.30" x2="1218.20" y2="1612.50" stroke="#4a4a4a" stroke-width="1.8"/>
<line x1="1218.20" y1="1612.50" x2="1218.20" y2="1633.60" stroke="rgba(60,60,60,0.35)" stroke-width="1.0"/>
<line x1="1220.20" y1="1533.30" x2="1220.20" y2="1612.50" stroke="#4a4a4a" stroke-width="1.8"/>
<line x1="1220.20" y1="1612.50" x2="1220.20" y2="1633.60" stroke="rgba(60,60,60,0.35)" stroke-width="1.0"/>
<line x1="1224.40" y1="1533.30" x2="1224.40" y2="1612.50" stroke="#4a4a4a" stroke-width="1.8"/>
<line x1="1224.40" y1="1612.50" x2="1224.40" y2="1633.60" stroke="rgba(60,60,60,0.35)" stroke-width="1.0"/>
<line x1="1229.40" y1="1533.30" x2="1229.40" y2="1612.50" stroke="#4a4a4a" stroke-width="1.8"/>
<line x1="1229.40" y1="1612.50" x2="1229.40" y2="1633.60" stroke="rgba(60,60,60,0.35)" stroke-width="1.0"/>
<line x1="1241.80" y1="1533.30" x2="1241.80" y2="1612.50" stroke="#4a4a4a" stroke-width="1.8"/>
<line x1="1241.80" y1="1612.50" x2="1241.80" y2="1633.60" stroke="rgba(60,60,60,0.35)" stroke-width="1.0"/>
<line x1="1245.50" y1="1533.30" x2="1245.50" y2="1612.50" stroke="#4a4a4a" stroke-width="1.8"/>
<line x1="1245.50" y1="1612.50" x2="1245.50" y2="1633.60" stroke="rgba(60,60,60,0.35)" stroke-width="1.0"/>
<line x1="1264.10" y1="1533.30" x2="1264.10" y2="1612.50" stroke="#4a4a4a" stroke-width="1.8"/>
<line x1="1264.10" y1="1612.50" x2="1264.10" y2="1633.60" stroke="rgba(60,60,60,0.35)" stroke-width="1.0"/>
<line x1="1265.90" y1="1533.30" x2="1265.90" y2="1612.50" stroke="#4a4a4a" stroke-width="1.8"/>
<line x1="1265.90" y1="1612.50" x2="1265.90" y2="1633.60" stroke="rgba(60,60,60,0.35)" stroke-width="1.0"/>
<rect x="1209.00" y="1533.30" width="7.20" height="79.20" fill="#1a1a1a" stroke="none" stroke-width="0"/>
<rect x="1209.50" y="1612.50" width="6.20" height="21.10" fill="rgba(40,40,60,0.25)" stroke="none" stroke-width="0"/>
<rect x="1230.10" y="1533.30" width="8.40" height="79.20" fill="#1a1a1a" stroke="none" stroke-width="0"/>
<rect x="1230.60" y="1612.50" width="7.40" height="21.10" fill="rgba(40,40,60,0.25)" stroke="none" stroke-width="0"/>
<rect x="1251.20" y="1533.30" width="10.90" height="79.20" fill="#1a1a1a" stroke="none" stroke-width="0"/>
<rect x="1251.70" y="1612.50" width="9.90" height="21.10" fill="rgba(40,40,60,0.25)" stroke="none" stroke-width="0"/>
<rect x="720.40" y="1635.60" width="1.40" height="1.80" fill="#ff5a5a" stroke="none" stroke-width="0"/>
<rect x="768.90" y="1635.60" width="1.40" height="1.80" fill="#ff5a5a" stroke="none" stroke-width="0"/>
<rect x="777.40" y="1635.60" width="1.40" height="1.80" fill="#ff5a5a" stroke="none" stroke-width="0"/>
<rect x="802.90" y="1635.60" width="1.40" height="1.80" fill="#ff5a5a" stroke="none" stroke-width="0"/>
<rect x="812.60" y="1635.60" width="1.40" height="1.80" fill="#ff5a5a" stroke="none" stroke-width="0"/>
<rect x="831.60" y="1635.60" width="1.40" height="1.80" fill="#ff5a5a" stroke="none" stroke-width="0"/>
<rect x="879.60" y="1635.60" width="1.40" height="1.80" fill="#ff5a5a" stroke="none" stroke-width="0"/>
<rect x="908.90" y="1635.60" width="1.40" height="1.80" fill="#ff5a5a" stroke="none" stroke-width="0"/>
<rect x="910.90" y="1635.60" width="1.40" height="1.80" fill="#ff5a5a" stroke="none" stroke-width="0"/>
<rect x="912.90" y="1635.60" width="1.40" height="1.80" fill="#ff5a5a" stroke="none" stroke-width="0"/>
<polyline points="716.6,1293.7 720.0,1296.0 723.5,1298.0 726.6,1299.3 728.2,1295.4 731.3,1296.1 754.8,1309.2 779.9,1321.8 809.6,1336.1 836.3,1350.2 861.3,1363.5 898.9,1382.6 980.0,1424.1 1000.4,1433.2 1022.8,1443.4 1034.0,1447.5 1059.4,1459.7 1090.0,1475.0 1106.3,1481.1 1120.5,1484.8 1130.7,1486.8 1157.2,1499.4 1169.4,1503.1 1174.5,1500.4 1209.1,1518.8 1212.2,1509.6 1215.2,1487.2 1218.3,1482.1 1223.4,1480.1 1226.4,1472.5 1232.5,1469.9 1233.6,1456.7 1236.2,1432.2 1238.7,1426.1 1243.7,1409.9 1247.0,1405.5 1251.6,1406.3 1252.8,1397.7 1254.3,1386.1 1255.9,1369.1 1258.2,1362.1 1260.5,1355.2 1262.0,1342.0 1264.4,1330.4 1265.9,1313.4 1266.2,1293.3" fill="none" stroke="#00ff00" stroke-width="3.4" stroke-linejoin="round"/>
<text transform="translate(1088.69,1349.80) scale(0.9847,1)" font-size="33.5" fill="#000"><tspan>NES=-2.24</tspan></text>
<text transform="translate(1089.26,1389.20) scale(1.0219,1)" font-size="32.5" fill="#000"><tspan>p=0</tspan></text>
<text transform="rotate(-90) translate(-1579.48,655.70) scale(0.9893,1)" font-size="33" fill="#000"><tspan>Enrichment score</tspan></text>
</svg>
</body></html>
